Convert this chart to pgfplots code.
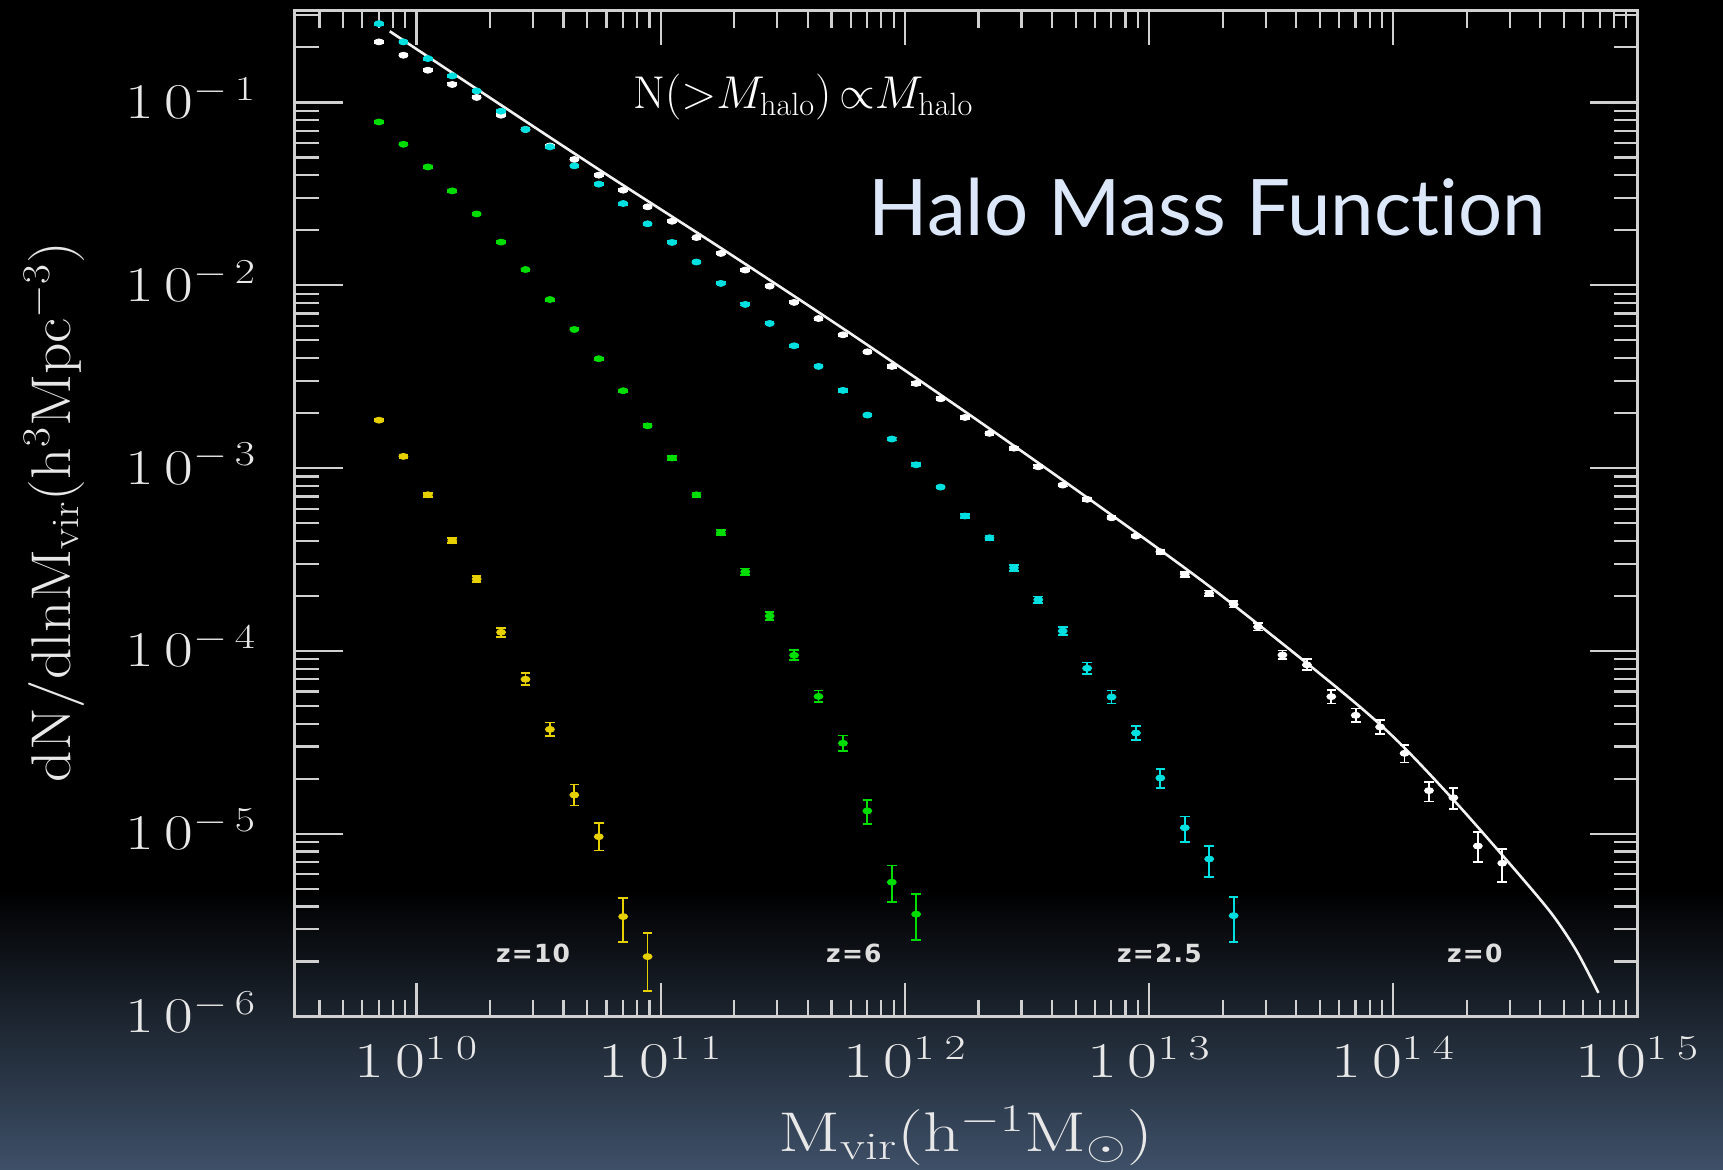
\RequirePackage{fix-cm}
\documentclass[border=0pt]{standalone}
\usepackage{graphicx}
\usepackage{pgfplots}
\pgfplotsset{compat=1.18}
\usepackage{pgfplotstable}
\usepackage{fontspec}
\newfontfamily\titlefont[Ligatures=CommonOff]{Lato}
\newfontfamily\zfont[LetterSpace=5]{DejaVu Sans}
\definecolor{bgb}{HTML}{3E5068}
\definecolor{cy}{HTML}{00E0E0}
\definecolor{gr}{HTML}{00DD00}
\definecolor{yl}{HTML}{E6D000}
\definecolor{axc}{HTML}{D0D0D0}
\definecolor{ttl}{HTML}{DCE8FA}
\definecolor{lbl}{HTML}{E8E8E8}

% z = 0 (log10 M, log10 dN/dlnM, err+, err-)
\pgfplotstableread{
x y ep em
9.846 -0.669 0.006 0.006
9.946 -0.742 0.006 0.006
10.046 -0.824 0.006 0.006
10.146 -0.902 0.006 0.006
10.246 -0.973 0.006 0.006
10.346 -1.070 0.006 0.006
10.446 -1.148 0.006 0.006
10.546 -1.238 0.006 0.006
10.646 -1.312 0.006 0.006
10.746 -1.398 0.006 0.006
10.846 -1.480 0.006 0.006
10.946 -1.571 0.006 0.006
11.046 -1.650 0.006 0.006
11.146 -1.739 0.006 0.006
11.246 -1.826 0.006 0.006
11.346 -1.917 0.006 0.006
11.446 -2.005 0.006 0.006
11.546 -2.094 0.006 0.006
11.646 -2.182 0.006 0.006
11.746 -2.271 0.006 0.006
11.846 -2.364 0.006 0.006
11.946 -2.444 0.008 0.008
12.046 -2.537 0.008 0.008
12.146 -2.621 0.008 0.008
12.246 -2.723 0.008 0.008
12.346 -2.810 0.008 0.008
12.446 -2.891 0.008 0.008
12.546 -2.993 0.008 0.008
12.646 -3.093 0.008 0.008
12.746 -3.171 0.008 0.008
12.846 -3.272 0.008 0.008
12.946 -3.372 0.008 0.008
13.046 -3.458 0.012 0.012
13.146 -3.581 0.014 0.014
13.246 -3.685 0.016 0.016
13.346 -3.745 0.018 0.018
13.446 -3.868 0.020 0.020
13.546 -4.022 0.024 0.024
13.646 -4.076 0.030 0.030
13.746 -4.250 0.038 0.038
13.846 -4.352 0.037 0.037
13.946 -4.416 0.039 0.039
14.046 -4.560 0.046 0.050
14.146 -4.764 0.049 0.060
14.246 -4.803 0.055 0.061
14.346 -5.067 0.075 0.086
14.446 -5.161 0.076 0.101
}\zzero

% z = 2.5
\pgfplotstableread{
x y ep em
9.846 -0.569 0.006 0.006
9.946 -0.669 0.006 0.006
10.046 -0.760 0.006 0.006
10.146 -0.855 0.006 0.006
10.246 -0.937 0.006 0.006
10.346 -1.048 0.006 0.006
10.446 -1.148 0.006 0.006
10.546 -1.243 0.006 0.006
10.646 -1.347 0.006 0.006
10.746 -1.447 0.006 0.006
10.846 -1.553 0.006 0.006
10.946 -1.664 0.006 0.006
11.046 -1.766 0.006 0.006
11.146 -1.873 0.006 0.006
11.246 -1.990 0.006 0.006
11.346 -2.105 0.006 0.006
11.446 -2.209 0.006 0.006
11.546 -2.331 0.006 0.006
11.646 -2.444 0.006 0.006
11.746 -2.575 0.008 0.008
11.846 -2.710 0.008 0.008
11.946 -2.841 0.008 0.008
12.046 -2.982 0.008 0.008
12.146 -3.104 0.008 0.008
12.246 -3.262 0.010 0.010
12.346 -3.381 0.012 0.012
12.446 -3.546 0.016 0.016
12.546 -3.720 0.018 0.018
12.646 -3.891 0.021 0.021
12.746 -4.095 0.032 0.032
12.846 -4.252 0.036 0.036
12.946 -4.449 0.038 0.040
13.046 -4.695 0.050 0.055
13.146 -4.967 0.061 0.079
13.246 -5.138 0.073 0.097
13.346 -5.448 0.104 0.142
}\ztwo

% z = 6
\pgfplotstableread{
x y ep em
9.846 -1.107 0.006 0.006
9.946 -1.229 0.006 0.006
10.046 -1.353 0.006 0.006
10.146 -1.484 0.006 0.006
10.246 -1.610 0.006 0.006
10.346 -1.764 0.006 0.006
10.446 -1.914 0.006 0.006
10.546 -2.078 0.006 0.006
10.646 -2.242 0.006 0.006
10.746 -2.402 0.006 0.006
10.846 -2.577 0.006 0.006
10.946 -2.769 0.008 0.008
11.046 -2.945 0.010 0.010
11.146 -3.146 0.012 0.012
11.246 -3.354 0.014 0.014
11.346 -3.567 0.018 0.018
11.446 -3.809 0.022 0.022
11.546 -4.024 0.027 0.027
11.646 -4.249 0.032 0.032
11.746 -4.505 0.042 0.042
11.846 -4.875 0.060 0.072
11.946 -5.265 0.091 0.108
12.046 -5.440 0.109 0.141
}\zsix

% z = 10
\pgfplotstableread{
x y ep em
9.846 -2.738 0.006 0.006
9.946 -2.936 0.008 0.008
10.046 -3.146 0.010 0.010
10.146 -3.397 0.014 0.014
10.246 -3.607 0.018 0.018
10.346 -3.898 0.024 0.024
10.446 -4.155 0.033 0.033
10.546 -4.429 0.038 0.038
10.646 -4.788 0.057 0.057
10.746 -5.016 0.076 0.076
10.846 -5.453 0.100 0.139
10.946 -5.672 0.131 0.186
}\zten

\pgfplotsset{
  pts/.style={only marks, mark=*, mark size=1.5pt, mark options={xscale=1.5},
    error bars/y dir=both, error bars/y explicit,
    error bars/error bar style={line width=0.9pt},
    error bars/error mark options={rotate=90, mark size=2.4pt, line width=0.9pt}},
}
\newcommand{\xl}[1]{\scalebox{1.3}[1]{$1\mkern3mu0^{1\mkern4mu#1}$}}
\newcommand{\yl}[1]{\scalebox{1.25}[1]{$1\mkern3mu0^{-\mkern3mu#1}$}}

\begin{document}
\begin{tikzpicture}
\useasboundingbox (0,0) rectangle (861.5pt,585pt);
\fill[black] (0,0) rectangle (861.5pt,585pt);
\shade[top color=black, bottom color=bgb] (0,0) rectangle (861.5pt,140pt);
\node[rotate=90, text=lbl, font=\fontsize{28}{32}\selectfont] at (27pt,329pt)
  {\scalebox{1.1}[1]{$\mathrm{dN/dlnM_{vir}(h^{3}Mpc^{-3})}$}};
\begin{axis}[
  at={(147.25pt,76.7pt)}, anchor=south west,
  scale only axis, width=671.5pt, height=502.8pt,
  xmin=9.5, xmax=15, ymin=-6, ymax=-0.5,
  axis line style={axc, line width=1.5pt},
  tick style={axc, line width=1.1pt},
  tick align=inside,
  xtick style={/pgfplots/major tick length=17pt,/pgfplots/minor tick length=8.5pt},
  ytick style={/pgfplots/major tick length=24pt,/pgfplots/minor tick length=12pt},
  xtick={10,11,12,13,14,15},
  xticklabels={\xl{0},\xl{1},\xl{2},\xl{3},\xl{4},\xl{5}},
  minor xtick={9.602,9.699,9.778,9.845,9.903,9.954,
    10.301,10.477,10.602,10.699,10.778,10.845,10.903,10.954,
    11.301,11.477,11.602,11.699,11.778,11.845,11.903,11.954,
    12.301,12.477,12.602,12.699,12.778,12.845,12.903,12.954,
    13.301,13.477,13.602,13.699,13.778,13.845,13.903,13.954,
    14.301,14.477,14.602,14.699,14.778,14.845,14.903,14.954},
  ytick={-6,-5,-4,-3,-2,-1},
  yticklabels={\yl{6},\yl{5},\yl{4},\yl{3},\yl{2},\yl{1}},
  minor ytick={-5.699,-5.523,-5.398,-5.301,-5.222,-5.155,-5.097,-5.046,
    -4.699,-4.523,-4.398,-4.301,-4.222,-4.155,-4.097,-4.046,
    -3.699,-3.523,-3.398,-3.301,-3.222,-3.155,-3.097,-3.046,
    -2.699,-2.523,-2.398,-2.301,-2.222,-2.155,-2.097,-2.046,
    -1.699,-1.523,-1.398,-1.301,-1.222,-1.155,-1.097,-1.046,
    -0.699,-0.523},
  xticklabel style={text=lbl, font=\fontsize{25}{29}\selectfont, yshift=-6.5pt},
  yticklabel style={text=lbl, font=\fontsize{25}{29}\selectfont, anchor=base east, yshift=-8pt, xshift=-15.6pt},
  xlabel={\scalebox{1.3}[1]{$\mathrm{M_{vir}(h^{-1}M_{\odot})}$}},
  xlabel style={text=lbl, font=\fontsize{28}{32}\selectfont, at={(axis description cs:0.5,-0.134)}, anchor=base},
]
\addplot[color=white!90!gray, line width=1.3pt, smooth] coordinates {
 (9.89,-0.611) (10.25,-0.93) (10.75,-1.37) (11.25,-1.80) (11.75,-2.24)
 (12.25,-2.695) (12.75,-3.165) (13.25,-3.65) (13.75,-4.18) (14.0,-4.47)
 (14.25,-4.82) (14.5,-5.2) (14.65,-5.44) (14.75,-5.64) (14.84,-5.87)};
\addplot[color=white, pts] table[x=x, y=y, y error plus=ep, y error minus=em] {\zzero};
\addplot[color=cy, pts] table[x=x, y=y, y error plus=ep, y error minus=em] {\ztwo};
\addplot[color=gr, pts] table[x=x, y=y, y error plus=ep, y error minus=em] {\zsix};
\addplot[color=yl, pts] table[x=x, y=y, y error plus=ep, y error minus=em] {\zten};
\node[text=white, font=\fontsize{23}{27}\selectfont] at (axis cs:11.584,-0.97)
  {$\mathrm{N}({>}M_{\mathrm{halo}})\,{\propto}M_{\mathrm{halo}}$};
\node[anchor=west, inner sep=0pt, text=ttl, font=\titlefont\fontsize{39}{45}\selectfont] at (axis cs:11.85,-1.571) {Halo Mass Function};
\node[text=lbl!90!gray, font=\zfont\bfseries\fontsize{12.5}{15}\selectfont] at (axis cs:10.477,-5.657) {z=10};
\node[text=lbl!90!gray, font=\zfont\bfseries\fontsize{12.5}{15}\selectfont] at (axis cs:11.791,-5.657) {z=6};
\node[text=lbl!90!gray, font=\zfont\bfseries\fontsize{12.5}{15}\selectfont] at (axis cs:13.042,-5.657) {z=2.5};
\node[text=lbl!90!gray, font=\zfont\bfseries\fontsize{12.5}{15}\selectfont] at (axis cs:14.334,-5.657) {z=0};
\end{axis}
\end{tikzpicture}
\end{document}
